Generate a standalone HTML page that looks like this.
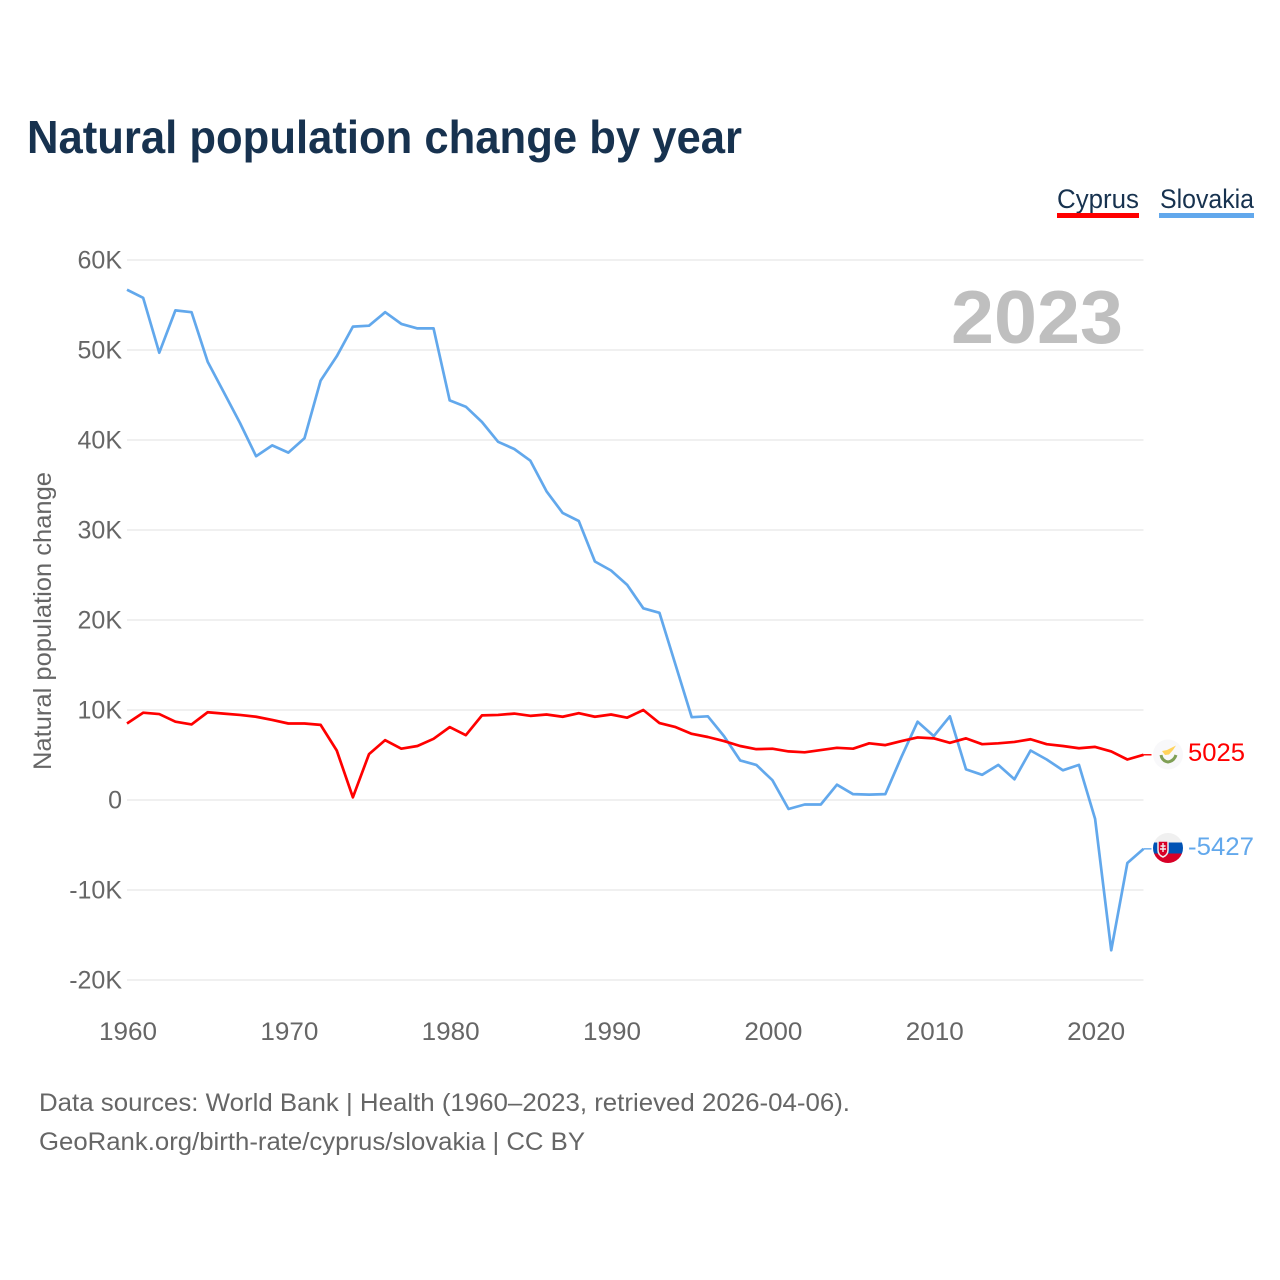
<!DOCTYPE html>
<html lang="en">
<head>
<meta charset="utf-8">
<title>Natural population change by year</title>
<style>
html,body{margin:0;padding:0;background:#fff;}
svg{display:block;font-family:"Liberation Sans",sans-serif;}
</style>
</head>
<body>
<svg id="chart" width="1280" height="1280" viewBox="0 0 1280 1280" xmlns="http://www.w3.org/2000/svg">
  <defs>
    <clipPath id="cy-clip"><circle cx="1168" cy="754.5" r="15"/></clipPath>
    <clipPath id="sk-clip"><circle cx="1168" cy="848" r="15"/></clipPath>
  </defs>
  <rect width="1280" height="1280" fill="#fff"/>
  <text x="27" y="153" font-size="46" font-weight="700" fill="#17324f" textLength="715" lengthAdjust="spacingAndGlyphs">Natural population change by year</text>

  <g>
    <text x="1057" y="208" font-size="27" fill="#17324f" textLength="82" lengthAdjust="spacingAndGlyphs">Cyprus</text>
    <rect x="1057" y="213" width="82" height="5" fill="#ff0000"/>
  </g>
  <g>
    <text x="1160" y="208" font-size="27" fill="#17324f" textLength="94" lengthAdjust="spacingAndGlyphs">Slovakia</text>
    <rect x="1159" y="213" width="95" height="5" fill="#62a8ec"/>
  </g>

  <g id="grid"></g>
  <g id="y-ticks"></g>
  <g id="x-ticks"></g>

  <text transform="translate(51,621) rotate(-90)" text-anchor="middle" font-size="25" fill="#666" textLength="298" lengthAdjust="spacingAndGlyphs">Natural population change</text>

  <text x="951" y="343" font-size="75" font-weight="700" fill="#bfbfbf" textLength="172" lengthAdjust="spacingAndGlyphs">2023</text>

  <g id="series"></g>

  <g>
    <circle cx="1168" cy="754.5" r="15" fill="#f8f8fa"/>
    <g clip-path="url(#cy-clip)">
      <path d="M1162 751 L1167 750 L1172 747.5 L1176 745.5 L1173 750 L1169 754.5 L1165 755 Z" fill="#ffd35c"/>
      <path d="M1161 755 Q1162 761 1168 762 Q1174 761 1176 755" fill="none" stroke="#7f9f55" stroke-width="3"/>
    </g>
  </g>
  <g>
    <g clip-path="url(#sk-clip)">
      <rect x="1153" y="833" width="30" height="9.5" fill="#f0f0f0"/>
      <rect x="1153" y="842.5" width="30" height="11" fill="#0052b4"/>
      <rect x="1153" y="853.5" width="30" height="10" fill="#d80027"/>
      <path d="M1158 841 H1168 V850 Q1168 855 1163 857 Q1158 855 1158 850 Z" fill="#d80027" stroke="#f0f0f0" stroke-width="1.5"/>
      <path d="M1163 843 V852 M1160.5 846 H1165.5 M1160 849 H1166" stroke="#f0f0f0" stroke-width="1.4" fill="none"/>
    </g>
  </g>

  <text x="1188" y="761" font-size="25" fill="#ff0000" textLength="57" lengthAdjust="spacingAndGlyphs">5025</text>
  <text x="1188" y="855" font-size="25" fill="#62a8ec" textLength="66" lengthAdjust="spacingAndGlyphs">-5427</text>

  <text x="39" y="1111" font-size="25" fill="#666" textLength="811" lengthAdjust="spacingAndGlyphs">Data sources: World Bank | Health (1960–2023, retrieved 2026-04-06).</text>
  <text x="39" y="1150" font-size="25" fill="#666" textLength="546" lengthAdjust="spacingAndGlyphs">GeoRank.org/birth-rate/cyprus/slovakia | CC BY</text>
</svg>
<script>
const yTickValues = [60, 50, 40, 30, 20, 10, 0, -10, -20];
const yTickLabels = ["60K", "50K", "40K", "30K", "20K", "10K", "0", "-10K", "-20K"];
const xTickYears = [1960, 1970, 1980, 1990, 2000, 2010, 2020];
const firstYear = 1960;
const lastYear = 2023;
const slovakiaValues = [56.7,55.8,49.7,54.4,54.2,48.7,45.3,41.9,38.2,39.4,38.6,40.2,46.6,49.3,52.6,52.7,54.2,52.9,52.4,52.4,44.4,43.7,42.0,39.8,39.0,37.7,34.3,31.9,31.0,26.5,25.5,23.9,21.3,20.8,15.0,9.2,9.3,7.1,4.4,3.9,2.2,-1.0,-0.5,-0.5,1.7,0.65,0.6,0.65,4.8,8.7,7.1,9.3,3.4,2.8,3.9,2.3,5.5,4.5,3.3,3.9,-2.1,-16.7,-7.0,-5.427];
const cyprusValues = [8.5,9.7,9.55,8.7,8.4,9.75,9.6,9.45,9.25,8.9,8.5,8.5,8.35,5.5,0.3,5.1,6.65,5.7,6.0,6.8,8.1,7.2,9.4,9.45,9.6,9.35,9.5,9.25,9.65,9.25,9.5,9.15,10.0,8.55,8.1,7.35,7.0,6.55,6.0,5.65,5.7,5.4,5.3,5.55,5.8,5.7,6.3,6.1,6.55,6.95,6.85,6.35,6.85,6.2,6.3,6.45,6.75,6.2,6.0,5.75,5.9,5.4,4.5,5.025];

const NS = "http://www.w3.org/2000/svg";
function xScale(year) { return 127 + (year - firstYear) * (1143.5 - 127) / (lastYear - firstYear); }
function yScale(value) { return 800 - value * 9; }

const gridGroup = document.getElementById("grid");
const yGroup = document.getElementById("y-ticks");
const xGroup = document.getElementById("x-ticks");
const seriesGroup = document.getElementById("series");

yTickValues.forEach(function (v, i) {
  const line = document.createElementNS(NS, "line");
  
  
  line.setAttribute("x1", 127);
  line.setAttribute("x2", 1143.5);
  line.setAttribute("y1", yScale(v));
  line.setAttribute("y2", yScale(v));
  line.setAttribute("stroke", "#ececec");
  line.setAttribute("stroke-width", "1.5");
  gridGroup.appendChild(line);

  const t = document.createElementNS(NS, "text");
  
  
  t.setAttribute("x", 122);
  t.setAttribute("y", yScale(v) + 8.5);
  t.setAttribute("text-anchor", "end");
  t.setAttribute("font-size", "25");
  t.setAttribute("fill", "#666");
  t.textContent = yTickLabels[i];
  yGroup.appendChild(t);
});

xTickYears.forEach(function (year) {
  const t = document.createElementNS(NS, "text");
  
  
  t.setAttribute("x", xScale(year) + 1);
  t.setAttribute("y", 1040);
  t.setAttribute("text-anchor", "middle");
  t.setAttribute("font-size", "25");
  t.setAttribute("fill", "#666");
  t.setAttribute("textLength", "58");
  t.setAttribute("lengthAdjust", "spacingAndGlyphs");
  t.textContent = String(year);
  xGroup.appendChild(t);
});

function pointsFor(values) {
  return values.map(function (v, i) {
    return xScale(firstYear + i).toFixed(2) + "," + yScale(v).toFixed(2);
  }).join(" ");
}

const slovakiaLine = document.createElementNS(NS, "polyline");


slovakiaLine.setAttribute("points", pointsFor(slovakiaValues));
slovakiaLine.setAttribute("fill", "none");
slovakiaLine.setAttribute("stroke", "#62a8ec");
slovakiaLine.setAttribute("stroke-width", "2.7");
slovakiaLine.setAttribute("stroke-linejoin", "round");
seriesGroup.appendChild(slovakiaLine);

const cyprusLine = document.createElementNS(NS, "polyline");


cyprusLine.setAttribute("points", pointsFor(cyprusValues));
cyprusLine.setAttribute("fill", "none");
cyprusLine.setAttribute("stroke", "#ff0000");
cyprusLine.setAttribute("stroke-width", "2.7");
cyprusLine.setAttribute("stroke-linejoin", "round");
seriesGroup.appendChild(cyprusLine);

const slovakiaConnector = document.createElementNS(NS, "line");


slovakiaConnector.setAttribute("x1", xScale(lastYear));
slovakiaConnector.setAttribute("x2", xScale(lastYear) + 8);
slovakiaConnector.setAttribute("y1", yScale(slovakiaValues[slovakiaValues.length - 1]));
slovakiaConnector.setAttribute("y2", yScale(slovakiaValues[slovakiaValues.length - 1]));
slovakiaConnector.setAttribute("stroke", "#62a8ec");
slovakiaConnector.setAttribute("stroke-width", "1.4");
seriesGroup.appendChild(slovakiaConnector);

const cyprusConnector = document.createElementNS(NS, "line");


cyprusConnector.setAttribute("x1", xScale(lastYear));
cyprusConnector.setAttribute("x2", xScale(lastYear) + 8);
cyprusConnector.setAttribute("y1", yScale(cyprusValues[cyprusValues.length - 1]));
cyprusConnector.setAttribute("y2", yScale(cyprusValues[cyprusValues.length - 1]));
cyprusConnector.setAttribute("stroke", "#ff0000");
cyprusConnector.setAttribute("stroke-width", "1.4");
seriesGroup.appendChild(cyprusConnector);
</script>
</body>
</html>
